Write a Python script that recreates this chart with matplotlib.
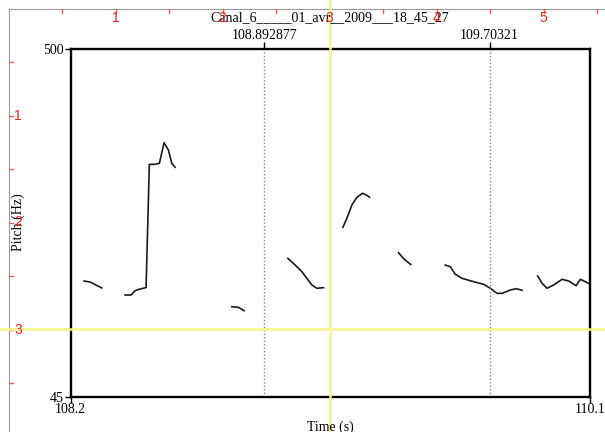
import matplotlib
matplotlib.use("Agg")
import matplotlib.pyplot as plt
from matplotlib.lines import Line2D

# ---- data ----
title = "Canal_6_____01_avr__2009___18_45_27"
x_min, x_max = 108.1954, 110.0658
x_tick_labels = ["108.2", "110.1"]
y_min, y_max = 45, 500
y_ticks = [45, 500]
marks = [108.892877, 109.70321]
mark_labels = ["108.892877", "109.70321"]

seg1_t = [108.2437, 108.2653, 108.2833, 108.3074]
seg1_f = [196.0, 194.7, 191.4, 186.9]
seg2_t = [108.3913, 108.4129, 108.4273, 108.4453, 108.4669, 108.4788, 108.4993,
          108.5148, 108.5317, 108.5472, 108.5595, 108.5713]
seg2_f = [177.7, 177.7, 183.3, 185.6, 187.3, 348.6, 348.6, 349.9, 376.8, 367.3,
          349.9, 344.7]
seg3_t = [108.7755, 108.7993, 108.8198]
seg3_f = [162.4, 161.6, 157.2]
seg4_t = [108.9772, 109.0035, 109.0276, 109.0456, 109.0636, 109.0816, 109.1054]
seg4_f = [225.7, 216.9, 208.2, 199.5, 190.8, 186.5, 187.3]
seg5_t = [109.1752, 109.1896, 109.2076, 109.2256, 109.2458, 109.2591, 109.2710]
seg5_f = [266.2, 278.0, 295.4, 305.5, 310.7, 308.5, 305.5]
seg6_t = [109.3754, 109.3960, 109.4194]
seg6_f = [233.0, 224.4, 217.6]
seg7_t = [109.5436, 109.5616, 109.5796, 109.6038, 109.6455, 109.6815, 109.7056,
          109.7298, 109.7478, 109.7777, 109.7993, 109.8198]
seg7_f = [216.9, 214.7, 204.8, 199.5, 195.1, 191.7, 186.5, 179.9, 179.9, 184.2,
          186.0, 183.9]
seg8_t = [109.8760, 109.8918, 109.9098, 109.9336, 109.9639, 109.9876, 110.0143,
          110.0298, 110.0477, 110.0658]
seg8_f = [202.6, 193.0, 186.5, 190.8, 198.2, 196.0, 189.9, 198.2, 195.1, 191.7]

segments = [(seg1_t, seg1_f), (seg2_t, seg2_f), (seg3_t, seg3_f), (seg4_t, seg4_f),
            (seg5_t, seg5_f), (seg6_t, seg6_f), (seg7_t, seg7_f), (seg8_t, seg8_f)]

ruler_labels = ["1", "2", "3", "4", "5"]

# ---- figure ----
W, H = 605, 432
fig = plt.figure(figsize=(W / 100, H / 100), dpi=100)
serif = "Liberation Serif"
plt.rcParams["font.family"] = serif

def fx(px):
    return px / W

def fy(py):
    return 1 - py / H

left, right, top, bottom = 70.6, 590.4, 48.5, 396.5
ax = fig.add_axes([fx(left), fy(bottom), (right - left) / W, (bottom - top) / H])
ax.set_xlim(x_min, x_max)
ax.set_ylim(y_min, y_max)

for t, f in segments:
    ax.plot(t, f, color="#1a1a1a", lw=1.2, solid_joinstyle="round")

for m in marks:
    ax.axvline(m, color="#888888", lw=1.0, ls=(0, (1, 1.5)))

for s in ax.spines.values():
    s.set_linewidth(1.7)
    s.set_color("black")

ax.set_yticks(y_ticks)
ax.set_yticklabels([str(v) for v in y_ticks], fontsize=10, family=serif)
ax.set_xticks([x_min, x_max])
ax.set_xticklabels(x_tick_labels, fontsize=10, family=serif)
ax.tick_params(axis="both", direction="out", length=4, width=1.0, pad=1)

sec = ax.secondary_xaxis("top")
sec.set_xticks(marks)
sec.set_xticklabels(mark_labels, fontsize=10, family=serif)
sec.tick_params(direction="out", length=4, width=1.0, pad=1)
sec.spines["top"].set_visible(False)

fig.text(fx(330), fy(18), title, ha="center", va="center", fontsize=10, family=serif)
fig.text(fx(330), fy(421), "Time (s)", ha="center", va="top", fontsize=10, family=serif)
fig.text(fx(18), fy(222), "Pitch (Hz)", ha="center", va="center", rotation=90,
         fontsize=10, family=serif)

# ---- Praat picture-window ruler ----
origin = 8.5
inch = 107.0
fig.add_artist(Line2D([fx(origin), fx(W)], [fy(origin), fy(origin)],
                      transform=fig.transFigure, color="#999999", lw=0.8))
fig.add_artist(Line2D([fx(origin), fx(origin)], [fy(origin), fy(H)],
                      transform=fig.transFigure, color="#999999", lw=0.8))
for k in range(1, 12):
    p = origin + k * inch / 2
    if p < W:
        fig.add_artist(Line2D([fx(p), fx(p)], [fy(origin), fy(origin + 4)],
                              transform=fig.transFigure, color="#e06060", lw=1.0))
    if p < H:
        fig.add_artist(Line2D([fx(origin), fx(origin + 4)], [fy(p), fy(p)],
                              transform=fig.transFigure, color="#e06060", lw=1.0))
for i, lab in enumerate(ruler_labels):
    p = origin + (i + 1) * inch
    fig.text(fx(p), fy(18), lab, ha="center", va="center", color="#ee2222",
             fontsize=10, family="Liberation Sans")
    if p < H - 20:
        fig.text(fx(18), fy(p), lab, ha="center", va="center", color="#ee2222",
                 fontsize=10, family="Liberation Sans")

# yellow selection lines
ycol = "#f4f48a"
fig.add_artist(Line2D([fx(330), fx(330)], [fy(0), fy(H)], transform=fig.transFigure,
                      color=ycol, lw=2.0, alpha=0.9))
fig.add_artist(Line2D([fx(0), fx(W)], [fy(329), fy(329)], transform=fig.transFigure,
                      color=ycol, lw=2.0, alpha=0.9))

fig.savefig("out.png", dpi=100)
